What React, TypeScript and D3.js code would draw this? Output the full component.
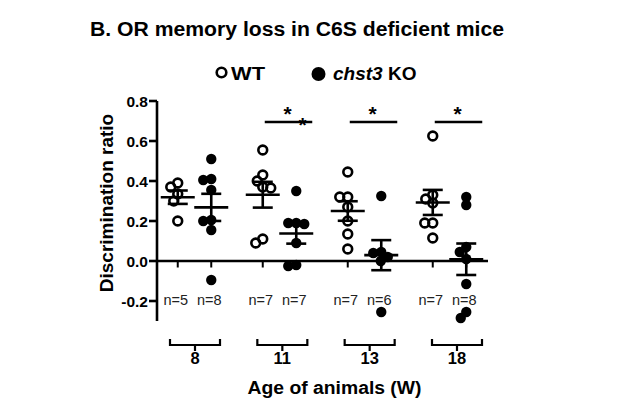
import React from "react";
import * as d3 from "d3";

const title = "B. OR memory loss in C6S deficient mice";
const ages = ["8", "11", "13", "18"];
const genotypes = ["WT", "KO"];
const yTicks = [-0.2, 0.0, 0.2, 0.4, 0.6, 0.8];
const yLabel = "Discrimination ratio";
const xLabel = "Age of animals (W)";

const wtValues = [
  [0.39, 0.37, 0.335, 0.3, 0.2],
  [0.555, 0.43, 0.4, 0.37, 0.365, 0.11, 0.09],
  [0.445, 0.32, 0.32, 0.27, 0.2, 0.135, 0.06],
  [0.625, 0.33, 0.31, 0.29, 0.19, 0.19, 0.115],
];
const koValues = [
  [0.51, 0.41, 0.405, 0.355, 0.205, 0.2, 0.155, -0.095],
  [0.35, 0.19, 0.19, 0.185, 0.09, -0.02, -0.025],
  [0.325, 0.045, 0.04, 0.02, 0.0, -0.255],
  [0.32, 0.28, 0.07, 0.045, 0.01, -0.115, -0.255, -0.285],
];
const significant = [false, true, true, true];
const extraStar = [false, true, false, false];

const FONT = "'Liberation Sans', Arial, Helvetica, sans-serif";

function swarm(values: number[], y: (v: number) => number, D: number): number[] {
  const order = values.map((_, i) => i).sort((a, b) => values[b] - values[a]);
  const placed: { x: number; y: number }[] = [];
  const offs = new Array(values.length).fill(0);
  for (const i of order) {
    const py = y(values[i]);
    let chosen = 0;
    for (let k = 0; k < 400; k++) {
      const cand = (k % 2 === 0 ? 1 : -1) * Math.ceil(k / 2) * 0.5;
      const ok = placed.every((p) => Math.hypot(p.x - cand, p.y - py) >= D);
      if (ok) {
        chosen = cand;
        break;
      }
    }
    offs[i] = chosen;
    placed.push({ x: chosen, y: py });
  }
  return offs;
}

export default function App() {
  const W = 629;
  const H = 412;
  const y = d3.scaleLinear().domain([-0.3, 0.8]).range([321, 101]);
  const xGroup = d3.scalePoint<string>().domain(ages).range([194.5, 449.5]);
  const xSub = d3.scalePoint<string>().domain(genotypes).range([-16.75, 16.75]);
  const xBracket = d3.scalePoint<string>().domain(ages).range([195, 457]);
  const axisX = 157;
  const xEnd = 488;

  const groups = ages.flatMap((age, gi) =>
    genotypes.map((g) => {
      const vals = g === "WT" ? wtValues[gi] : koValues[gi];
      const mean = d3.mean(vals) as number;
      const sem = (d3.deviation(vals) as number) / Math.sqrt(vals.length);
      const cx = (xGroup(age) as number) + (xSub(g) as number);
      const offs = swarm(vals, y, 8);
      return { age, gi, g, vals, mean, sem, cx, offs };
    })
  );

  const sw = 2.6;

  return (
    <svg
      width={W}
      height={H}
      style={{ position: "absolute", left: 0, top: 0, background: "#fff" }}
      fontFamily={FONT}
    >
      <rect width={W} height={H} fill="#fff" />
      <text x={90} y={36} fontSize={20} fontWeight="bold" textLength={414} lengthAdjust="spacingAndGlyphs">
        {title}
      </text>

      {/* legend */}
      <circle cx={221.5} cy={72.5} r={4.8} fill="#fff" stroke="#000" strokeWidth={2.6} />
      <text x={231} y={79.5} fontSize={19} fontWeight="bold" textLength={34} lengthAdjust="spacingAndGlyphs">
        WT
      </text>
      <circle cx={318.5} cy={74} r={7} fill="#000" />
      <text x={333} y={79.5} fontSize={19} fontWeight="bold">
        <tspan fontStyle="italic">chst3</tspan>
        <tspan> KO</tspan>
      </text>

      {/* y axis */}
      <line x1={axisX} x2={axisX} y1={y(0.8)} y2={y(-0.3)} stroke="#000" strokeWidth={sw} />
      {yTicks.map((t) => (
        <g key={t}>
          <line x1={axisX - 8} x2={axisX} y1={y(t)} y2={y(t)} stroke="#000" strokeWidth={sw} />
          <text
            x={axisX - 9}
            y={y(t) + 5.5}
            textAnchor="end"
            fontSize={15.5}
            fontWeight="bold"
          >
            {d3.format(".1f")(t).replace("−", "-")}
          </text>
        </g>
      ))}
      <text
        transform={`translate(113,203) rotate(-90)`}
        textAnchor="middle"
        fontSize={19}
        fontWeight="bold"
      >
        {yLabel}
      </text>

      {/* zero line */}
      <line x1={axisX} x2={xEnd} y1={y(0)} y2={y(0)} stroke="#000" strokeWidth={sw} />
      {groups.map((d) => (
        <line
          key={"tk" + d.age + d.g}
          x1={d.cx}
          x2={d.cx}
          y1={y(0)}
          y2={y(0) + 6.5}
          stroke="#000"
          strokeWidth={2}
        />
      ))}

      {/* points */}
      {groups.map((d) =>
        d.vals.map((v, i) =>
          d.g === "WT" ? (
            <circle
              key={d.age + d.g + i}
              cx={d.cx + d.offs[i]}
              cy={y(v)}
              r={4.4}
              fill="none"
              stroke="#000"
              strokeWidth={2.6}
            />
          ) : (
            <circle key={d.age + d.g + i} cx={d.cx + d.offs[i]} cy={y(v)} r={5.2} fill="#000" />
          )
        )
      )}

      {/* mean +- SEM */}
      {groups.map((d) => (
        <g key={"m" + d.age + d.g} stroke="#000" strokeWidth={sw}>
          <line x1={d.cx - 17} x2={d.cx + 17} y1={y(d.mean)} y2={y(d.mean)} />
          <line x1={d.cx} x2={d.cx} y1={y(d.mean + d.sem)} y2={y(d.mean - d.sem)} />
          <line x1={d.cx - 10} x2={d.cx + 10} y1={y(d.mean + d.sem)} y2={y(d.mean + d.sem)} />
          <line x1={d.cx - 10} x2={d.cx + 10} y1={y(d.mean - d.sem)} y2={y(d.mean - d.sem)} />
        </g>
      ))}

      {/* n labels */}
      {groups.map((d) => (
        <text
          key={"n" + d.age + d.g}
          x={d.cx - 2}
          y={305}
          textAnchor="middle"
          fontSize={14.5}
          fill="#222"
        >
          {`n=${d.vals.length}`}
        </text>
      ))}

      {/* significance */}
      {ages.map((age, gi) => {
        if (!significant[gi]) return null;
        const wtX = (xGroup(age) as number) + (xSub("WT") as number);
        const koX = (xGroup(age) as number) + (xSub("KO") as number);
        const x1 = wtX + 2;
        const x2 = koX + 16;
        const c = (x1 + x2) / 2;
        return (
          <g key={"s" + age}>
            <line x1={x1} x2={x2} y1={122} y2={122} stroke="#000" strokeWidth={sw} />
            <text x={c - 1} y={121} textAnchor="middle" fontSize={21} fontWeight="bold">
              *
            </text>
            {extraStar[gi] && (
              <text x={c + 14} y={132} textAnchor="middle" fontSize={21} fontWeight="bold">
                *
              </text>
            )}
          </g>
        );
      })}

      {/* brackets */}
      {ages.map((age) => {
        const c = xBracket(age) as number;
        return (
          <g key={"b" + age}>
            <path
              d={`M${c - 25},339 V345 H${c + 25} V339 M${c},345 V351`}
              fill="none"
              stroke="#000"
              strokeWidth={2.2}
            />
            <text x={c} y={364} textAnchor="middle" fontSize={16.5} fontWeight="bold">
              {age}
            </text>
          </g>
        );
      })}
      <text x={334.5} y={394} textAnchor="middle" fontSize={18} fontWeight="bold" textLength={174} lengthAdjust="spacingAndGlyphs">
        {xLabel}
      </text>
    </svg>
  );
}
